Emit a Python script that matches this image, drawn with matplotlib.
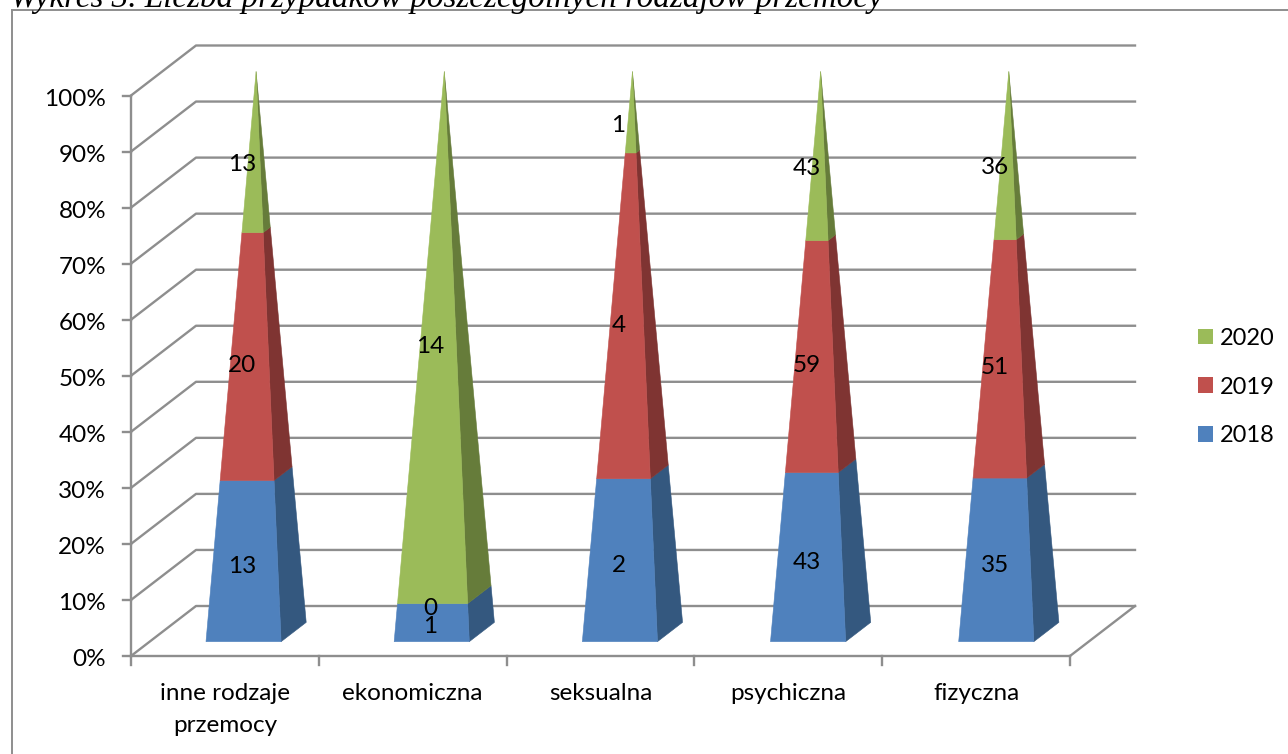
import matplotlib
matplotlib.use("Agg")
import matplotlib.pyplot as plt
from matplotlib.patches import Patch, Polygon
from matplotlib.lines import Line2D

plt.rcParams['font.family'] = ['Lato', 'DejaVu Sans']

# ---- data ----
categories = ["inne rodzaje\nprzemocy", "ekonomiczna", "seksualna", "psychiczna", "fizyczna"]
v2018 = [13, 1, 2, 43, 35]
v2019 = [20, 0, 4, 59, 51]
v2020 = [13, 14, 1, 43, 36]
years = ["2018", "2019", "2020"]
title = "Wykres 3. Liczba przypadków poszczególnych rodzajów przemocy"
yticks = list(range(0, 101, 10))

# ---- style ----
front = ["#4F81BD", "#C0504D", "#9BBB59"]
side = ["#34587F", "#7F3432", "#667C3A"]
GRID = "#8E8E8E"
W, H = 1288, 754
X0, CAT_W = 131.0, 187.8     # pixel of category 0, pixels per category
Y0, PCT_H = 656.0, 5.605     # pixel of 0 %, pixels per percent
DX = 65.0 / CAT_W            # depth vector in data units
DY = 50.0 / PCT_H
HALF_W, CENTER_D, HALF_D = 0.2, 0.48, 0.193
SPACING = 1.002
FS = 17.5

fig = plt.figure(figsize=(W / 100, H / 100), dpi=100)
ax = fig.add_axes([0, 0, 1, 1])
ax.set_xlim(-X0 / CAT_W, (W - X0) / CAT_W)
ax.set_ylim(-(H - Y0) / PCT_H, Y0 / PCT_H)
ax.axis("off")
ncat = len(categories)


def proj(x, depth, pct):
    return (x + depth * DX, pct + depth * DY)


lw = 1.7
kw = dict(color=GRID, lw=lw, solid_capstyle="projecting", zorder=1)
# wall and side gridlines
for t in yticks:
    a, b, c = proj(0, 0, t), proj(0, 1, t), proj(ncat, 1, t)
    ax.plot([a[0], b[0], c[0]], [a[1], b[1], c[1]], **kw)
# floor
a, b = proj(ncat, 0, 0), proj(ncat, 1, 0)
ax.plot([a[0], b[0]], [a[1], b[1]], **kw)
ax.plot([0, ncat], [0, 0], **kw)
ax.plot([0, 0], [0, 100], **kw)
# ticks
tick_y = 8 / PCT_H
tick_x = 8 / CAT_W
for t in yticks:
    ax.plot([-tick_x, 0], [t, t], **kw)
    ax.text(-25 / CAT_W, t - 0.7, f"{t}%", ha="right", va="center", fontsize=FS, color="black", zorder=5)
for i in range(ncat + 1):
    ax.plot([i, i], [-tick_y * 1.1, 0], **kw)
for i, c in enumerate(categories):
    ax.text(i + 0.5, -27 / PCT_H, c, ha="center", va="top", fontsize=FS, linespacing=1.65, color="black", zorder=5)


# pyramids
def corners(i, pct):
    k = 1 - pct / 100
    cx = 0.5 + i * SPACING
    fd = CENTER_D - HALF_D * k
    bd = CENTER_D + HALF_D * k
    fl = proj(cx - HALF_W * k, fd, pct)
    fr = proj(cx + HALF_W * k, fd, pct)
    br = proj(cx + HALF_W * k, bd, pct)
    return fl, fr, br


series = [v2018, v2019, v2020]
for i in range(ncat):
    total = sum(s[i] for s in series)
    cum = 0
    for j, s in enumerate(series):
        lo = 100 * cum / total
        cum += s[i]
        hi = 100 * cum / total
        mid = (lo + hi) / 2
        if s[i] > 0:
            fl0, fr0, br0 = corners(i, lo)
            fl1, fr1, br1 = corners(i, hi)
            ax.add_patch(Polygon([fr0, br0, br1, fr1], closed=True, fc=side[j], ec=side[j], lw=0.4, zorder=2))
            ax.add_patch(Polygon([fl0, fr0, fr1, fl1], closed=True, fc=front[j], ec=front[j], lw=0.4, zorder=3))
        lx = 0.5 + i * SPACING + 0.265 * DX
        ly = mid + 0.21 * DY
        ax.text(lx, ly, str(s[i]), ha="center", va="center", fontsize=FS, color="black", zorder=6)

# legend
handles = [Patch(fc=front[j], ec="none", label=years[j]) for j in (2, 1, 0)]
ax.legend(handles=handles, loc="center left", bbox_to_anchor=(1198 / W, 1 - 387 / H),
          bbox_transform=fig.transFigure, frameon=False, fontsize=17, handlelength=0.64, handleheight=0.64,
          handletextpad=0.3, labelspacing=1.17, borderpad=0, borderaxespad=0)

# outer frame and title
frame = dict(color="#8E8E8E", lw=1.4, transform=fig.transFigure, zorder=0)
fig.add_artist(Line2D([12 / W, 12 / W], [0, 1 - 10 / H], **frame))
fig.add_artist(Line2D([12 / W, 1], [1 - 10 / H, 1 - 10 / H], **frame))
fig.text(10 / W, 1 - 7 / H, title, family="Liberation Serif", style="italic", fontsize=23.9, va="baseline", ha="left", color="black")

fig.savefig("out.png", dpi=100)
